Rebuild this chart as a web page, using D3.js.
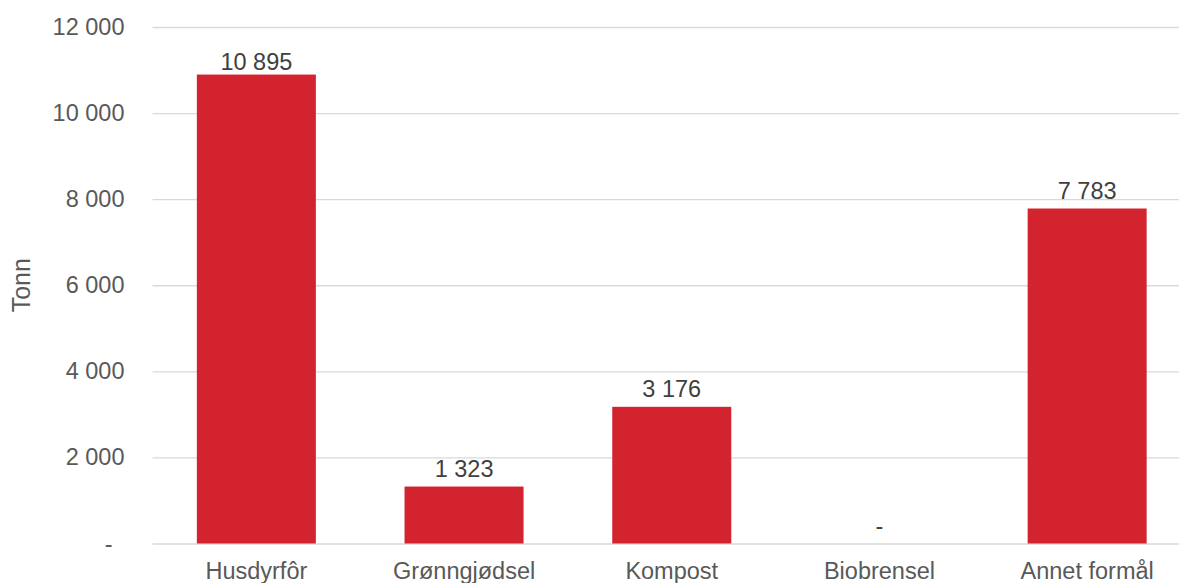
<!DOCTYPE html>
<html>
<head>
<meta charset="utf-8">
<script src="https://cdn.jsdelivr.net/npm/d3@7"></script>
<style>
  body { margin: 0; background: #fff; }
  svg { display: block; font-family: "Liberation Sans", Arial, sans-serif; }
</style>
</head>
<body>
<svg id="chart" width="1179" height="583"></svg>
<script>
// data
const categories = ['Husdyrfôr', 'Grønngjødsel', 'Kompost', 'Biobrensel', 'Annet formål'];
const values = [10895, 1323, 3176, 0, 7783];
const yTicks = [0, 2000, 4000, 6000, 8000, 10000, 12000];
const yLabel = 'Tonn';

const svg = d3.select('#chart');
const plotLeft = 152.5, plotRight = 1191, plotTop = 27, plotBottom = 543.5;
const fontSize = 23.5;

const nb = d3.formatLocale({ decimal: ',', thousands: ' ', grouping: [3], currency: ['', ''] });
const fmt = v => v === 0 ? '-' : nb.format(',.0f')(v);

const x = d3.scaleBand()
    .domain(categories)
    .range([plotLeft, plotRight])
    .paddingInner(0.427)
    .paddingOuter(0.2135);

const y = d3.scaleLinear()
    .domain([0, 12000])
    .range([plotBottom, plotTop]);

// y axis + gridlines
const yAxis = svg.append('g')
    .attr('transform', `translate(${plotLeft},0)`)
    .call(d3.axisLeft(y).tickValues(yTicks).tickFormat(fmt).tickSize(-(1179 - plotLeft)).tickPadding(28));
yAxis.select('.domain').remove();
yAxis.selectAll('.tick line').attr('stroke', '#d9d9d9').attr('stroke-width', 1.4);
yAxis.selectAll('.tick text')
    .attr('fill', '#595959')
    .attr('font-size', fontSize)
    .attr('dx', d => d === 0 ? -12 : 0);

// bars
svg.append('g')
    .selectAll('rect')
    .data(values)
    .enter().append('rect')
    .attr('x', (d, i) => x(categories[i]))
    .attr('width', x.bandwidth())
    .attr('y', d => y(d))
    .attr('height', d => plotBottom - y(d))
    .attr('fill', '#d2232f');

// value labels
svg.append('g')
    .selectAll('text')
    .data(values)
    .enter().append('text')
    .attr('x', (d, i) => x(categories[i]) + x.bandwidth() / 2)
    .attr('y', d => Math.max(y(d) - 10, 70))
    .attr('text-anchor', 'middle')
    .attr('font-size', fontSize)
    .attr('fill', '#404040')
    .text(fmt);

// category axis
const xAxis = svg.append('g')
    .attr('transform', `translate(0,${plotBottom})`)
    .call(d3.axisBottom(x).tickSize(0).tickPadding(18.5));
xAxis.select('.domain').remove();
xAxis.selectAll('.tick text')
    .attr('fill', '#595959')
    .attr('font-size', fontSize);

// y axis title
svg.append('text')
    .attr('transform', `translate(30,${(plotTop + plotBottom) / 2}) rotate(-90)`)
    .attr('text-anchor', 'middle')
    .attr('font-size', 25)
    .attr('fill', '#595959')
    .text(yLabel);
</script>
</body>
</html>
